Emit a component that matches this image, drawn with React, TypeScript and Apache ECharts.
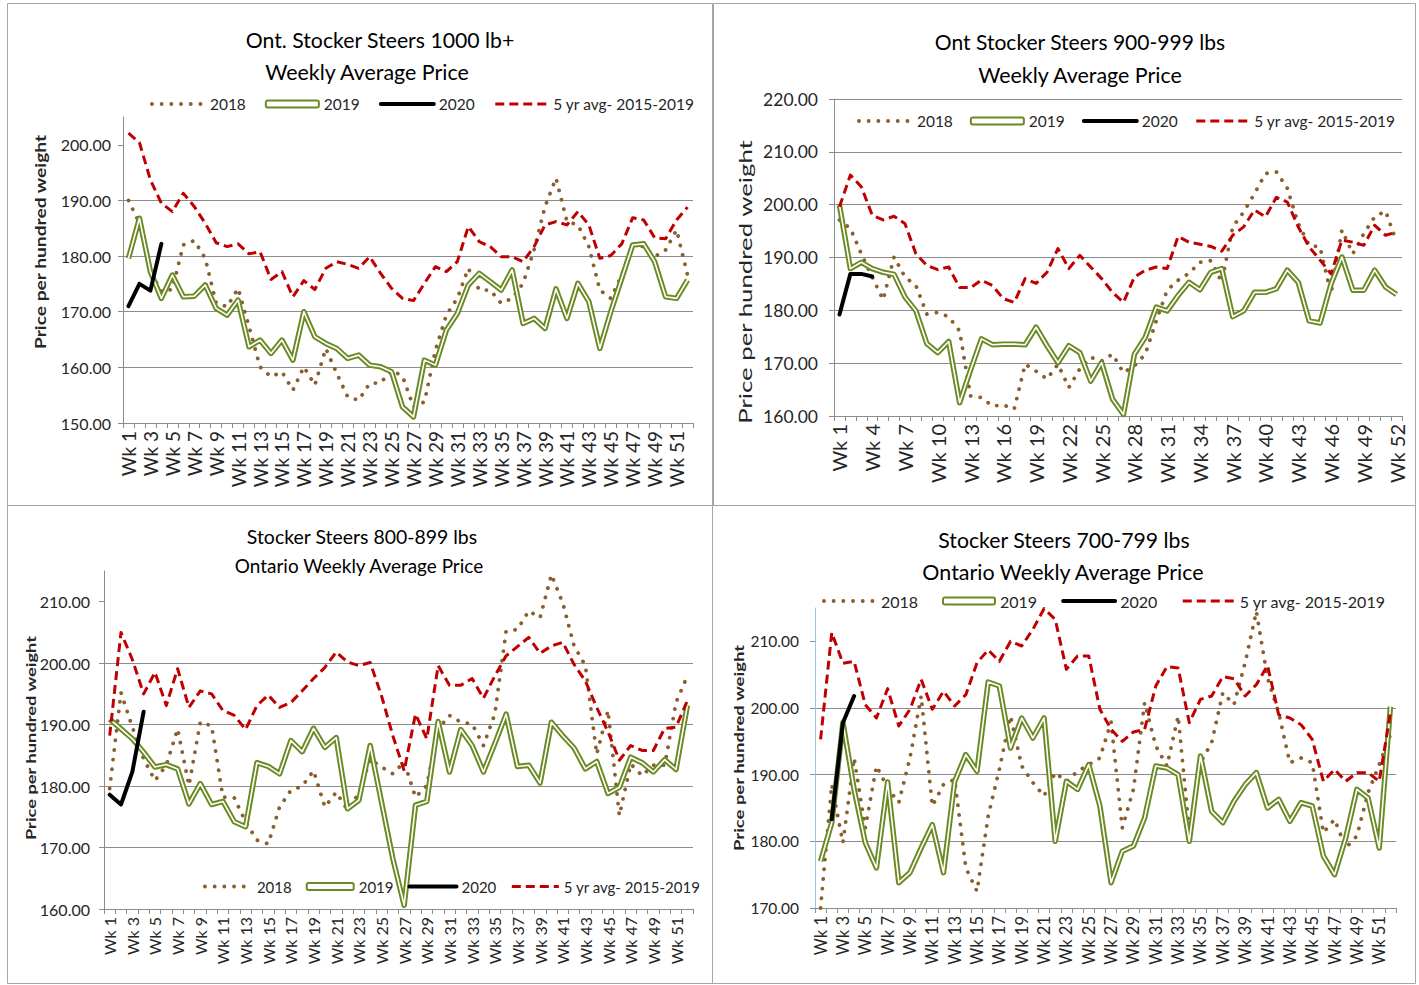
import React, { useEffect, useRef } from 'react';
import * as echarts from 'echarts';

// ---------- categories ----------
const weeks: string[] = Array.from({ length: 52 }, (_, i) => `Wk ${i + 1}`);
const seriesNames = ['2018', '2019', '2020', '5 yr avg- 2015-2019'];

// ---------- Panel 1: Ont. Stocker Steers 1000 lb+ ----------
const y2018_1000 = [190, 185.9, 177.2, 173.6, 174, 182, 182.8, 179.6, 171.5, 170.9, 174.2, 167.3, 160.1, 158.3, 159.2, 155.9, 160.1, 156.8, 163.4, 158.9, 154.7, 154.1, 157.1, 157.2, 159.5, 158.4, 152.9, 153.8, 163.1, 169.4, 172.4, 177.8, 173.9, 173.9, 171.5, 172.4, 175.1, 181.1, 188.9, 194.0, 186.2, 185.6, 181.7, 173.9, 172.4, 176.6, 182.0, 181.7, 179.9, 181.1, 184.7, 176.6];
const y2019_1000 = [179.6, 186.8, 177.2, 172.4, 176.6, 172.7, 172.8, 174.8, 170.6, 169.4, 172.1, 163.7, 164.9, 162.5, 164.9, 161.3, 170.0, 165.5, 164.3, 163.4, 161.6, 162.2, 160.4, 160.1, 159.2, 152.9, 151.1, 161.3, 160.4, 166.7, 169.7, 174.8, 176.9, 175.4, 173.9, 177.5, 167.9, 168.8, 167.0, 174.1, 168.8, 175.1, 171.8, 163.4, 170.0, 176.0, 182.0, 182.2, 179.0, 172.7, 172.4, 175.7];
const y2020_1000 = [171.0, 175.0, 173.8, 182.2];
const avg_1000 = [202.1, 200.4, 193.7, 189.5, 188.0, 191.3, 188.9, 185.9, 182.4, 181.7, 182.2, 180.4, 180.8, 175.8, 177.2, 172.7, 175.6, 174.0, 177.8, 179.0, 178.5, 177.8, 179.9, 176.9, 174.2, 172.4, 172.0, 175.1, 178.1, 177.2, 179.0, 185.3, 182.6, 181.7, 179.9, 179.9, 179.0, 181.7, 185.6, 186.2, 185.6, 188.0, 185.6, 179.6, 180.1, 182.2, 186.9, 186.5, 183.3, 183.1, 186.5, 188.8];

// ---------- Panel 2: Ont Stocker Steers 900-999 lbs ----------
const y2018_900 = [197.1, 195.5, 190.7, 186.3, 182.0, 190.1, 186.3, 184.7, 179.3, 179.6, 178.8, 176.1, 163.8, 163.5, 161.9, 162.1, 161.3, 169.8, 168.5, 167.0, 169.8, 165.4, 168.9, 171.1, 170.4, 171.7, 168.2, 169.5, 171.7, 178.0, 183.8, 185.7, 187.0, 189.1, 189.4, 185.3, 195.8, 198.6, 202.1, 205.9, 206.2, 203.1, 196.4, 192.3, 192.0, 183.1, 195.2, 190.7, 194.5, 197.7, 198.8, 192.9];
const y2019_900 = [199.9, 187.9, 189.1, 187.9, 187.2, 186.8, 182.5, 179.9, 173.7, 172.0, 174.1, 162.5, 168.7, 174.6, 173.5, 173.6, 173.6, 173.5, 176.8, 173.3, 170.1, 173.3, 172.0, 166.6, 170.1, 163.2, 160.3, 171.7, 174.9, 180.6, 179.9, 182.8, 185.3, 183.9, 187.2, 187.9, 178.8, 179.9, 183.4, 183.4, 184.1, 187.6, 185.3, 178.0, 177.6, 185.0, 190.1, 183.8, 183.8, 187.6, 184.4, 183.0];
const y2020_900 = [179.2, 186.9, 186.9, 186.4];
const avg_900 = [199.6, 205.6, 203.4, 198.0, 197.1, 197.8, 196.4, 190.7, 188.5, 187.7, 188.2, 184.3, 184.3, 185.7, 184.7, 182.2, 181.5, 186.0, 185.1, 187.2, 191.7, 187.9, 190.4, 188.2, 186.0, 183.4, 181.5, 186.3, 187.6, 188.2, 187.9, 194.0, 192.9, 192.5, 192.1, 191.2, 194.2, 195.8, 199.0, 197.7, 201.4, 200.5, 195.8, 192.0, 189.5, 186.9, 193.3, 192.9, 192.3, 196.1, 194.2, 194.8];

// ---------- Panel 3: Stocker Steers 800-899 lbs ----------
const y2018_800 = [179.6, 195.2, 189.6, 184.4, 180.9, 183.4, 189.3, 180.1, 190.4, 189.8, 178.2, 178.1, 174.2, 171.2, 170.6, 176.6, 179.3, 180.0, 182.5, 176.6, 179.0, 176.1, 178.8, 184.4, 183.1, 182.0, 183.9, 178.2, 180.1, 189.3, 191.5, 190.4, 190.1, 186.6, 191.7, 205.2, 205.5, 208.5, 207.4, 214.4, 209.8, 202.8, 199.6, 185.2, 192.3, 175.2, 183.6, 181.7, 183.4, 183.4, 193.6, 197.9];
const y2019_800 = [190.9, 189.3, 187.7, 185.5, 183.1, 183.5, 182.8, 177.1, 180.4, 177.0, 177.5, 174.2, 173.4, 183.8, 183.2, 182.0, 187.4, 185.6, 189.4, 186.3, 187.9, 176.3, 177.7, 186.6, 177.4, 168.2, 160.6, 176.9, 177.5, 190.5, 182.3, 189.2, 186.6, 182.3, 186.9, 191.7, 183.2, 183.4, 180.5, 190.4, 188.2, 186.2, 182.8, 184.0, 178.8, 179.8, 184.7, 183.8, 182.3, 184.3, 182.7, 193.1];
const y2020_800 = [178.6, 177.0, 182.3, 192.1];
const avg_800 = [188.2, 205.0, 200.6, 195.0, 198.5, 193.1, 199.1, 192.8, 195.5, 195.0, 192.3, 191.5, 189.2, 193.1, 194.8, 192.8, 193.6, 195.5, 197.5, 199.3, 201.8, 200.2, 199.6, 200.1, 194.7, 188.2, 182.5, 191.7, 187.7, 199.6, 196.4, 196.4, 197.5, 194.3, 197.9, 201.2, 202.7, 204.2, 201.6, 202.8, 203.4, 199.8, 197.1, 192.8, 188.8, 184.2, 186.6, 185.8, 185.8, 189.4, 189.6, 193.9];

// ---------- Panel 4: Stocker Steers 700-799 lbs ----------
const y2018_700 = [170.0, 188.5, 179.8, 192.5, 182.0, 191.3, 188.0, 185.8, 192.5, 201.8, 185.3, 188.5, 189.3, 176.0, 172.5, 183.8, 190.8, 198.8, 191.3, 188.8, 186.8, 190.3, 189.0, 190.5, 191.5, 192.5, 197.9, 182.0, 187.8, 200.8, 194.3, 191.3, 198.8, 181.5, 191.8, 194.8, 202.3, 200.5, 206.8, 214.5, 204.5, 199.3, 191.8, 192.5, 191.8, 181.3, 183.3, 179.0, 180.8, 187.3, 191.5, 196.0];
const y2019_700 = [177.0, 182.8, 197.8, 187.8, 179.8, 176.0, 188.9, 173.8, 175.3, 179.0, 182.5, 175.3, 189.0, 193.0, 190.5, 203.9, 203.3, 194.0, 198.5, 195.5, 198.5, 180.0, 189.0, 187.8, 191.5, 185.3, 173.8, 178.5, 179.3, 183.5, 191.3, 191.0, 190.0, 180.0, 192.8, 184.5, 182.8, 186.0, 188.5, 190.3, 185.0, 186.3, 183.0, 185.8, 185.3, 177.8, 175.0, 180.5, 187.8, 186.5, 179.0, 200.2];
const y2020_700 = [null, 183.3, 197.8, 201.8];
const avg_700 = [195.3, 211.3, 206.7, 207.0, 200.5, 198.5, 202.9, 197.3, 199.8, 204.3, 199.8, 202.5, 200.3, 202.0, 206.8, 208.7, 207.0, 210.0, 209.3, 211.8, 214.9, 213.3, 205.8, 207.8, 207.8, 199.8, 196.8, 195.0, 196.4, 196.8, 203.3, 206.2, 206.0, 197.8, 201.3, 201.8, 204.7, 204.4, 201.8, 203.5, 206.4, 199.0, 198.5, 197.5, 195.3, 189.0, 190.8, 189.0, 190.3, 190.3, 189.0, 199.3];

// ---------- styling ----------
const FONT = 'Lato';
const TEXT = '#262626';
const AXIS = '#8c8c8c';
const GRID = '#8c8c8c';
const C18 = '#8b5e2e';
const C19 = '#6b8a24';
const C20 = '#000000';
const CAVG = '#c00000';

const panels = [
  {
    d2018: y2018_1000, d2019: y2019_1000, d2020: y2020_1000, avg: avg_1000,
    grid: { left: 123, top: 117, width: 570, height: 306 },
    yMin: 150, yMax: 205, xInterval: 1, xFont: 19, yFont: 16, yMargin: 12, yLine: AXIS,
    legend: { left: 150, top: 96, w: 53, gap: 19, font: 15.5 },
    titles: [
      { text: 'Ont. Stocker Steers 1000 lb+', x: 380, y: 40, w: 269, size: 22 },
      { text: 'Weekly Average Price', x: 367, y: 72, w: 205, size: 22 },
    ],
    yName: { x: 40, y: 242, len: 215, size: 15, weight: 'bold' },
  },
  {
    d2018: y2018_900, d2019: y2019_900, d2020: y2020_900, avg: avg_900,
    grid: { left: 834, top: 99, width: 568, height: 317 },
    yMin: 160, yMax: 220, xInterval: 2, xFont: 20, yFont: 17.5, yMargin: 16, yLine: AXIS,
    legend: { left: 857, top: 113, w: 53, gap: 17, font: 15.5 },
    titles: [
      { text: 'Ont Stocker Steers 900-999 lbs', x: 1080, y: 42, w: 291, size: 22 },
      { text: 'Weekly Average Price', x: 1080, y: 75, w: 205, size: 22 },
    ],
    yName: { x: 745, y: 282, len: 285, size: 18, weight: 'normal' },
  },
  {
    d2018: y2018_800, d2019: y2019_800, d2020: y2020_800, avg: avg_800,
    grid: { left: 104, top: 571, width: 589, height: 338 },
    yMin: 160, yMax: 215, xInterval: 1, xFont: 16, yFont: 16, yMargin: 14, yLine: AXIS,
    legend: { left: 203, top: 879, w: 47, gap: 14, font: 15 },
    titles: [
      { text: 'Stocker Steers 800-899 lbs', x: 362, y: 536, w: 231, size: 20 },
      { text: 'Ontario Weekly Average Price', x: 359, y: 565, w: 250, size: 20 },
    ],
    yName: { x: 30, y: 738, len: 205, size: 14, weight: 'bold' },
  },
  {
    d2018: y2018_700, d2019: y2019_700, d2020: y2020_700, avg: avg_700,
    grid: { left: 815, top: 608, width: 581, height: 300 },
    yMin: 170, yMax: 215, xInterval: 1, xFont: 16.5, yFont: 15.5, yMargin: 16, yLine: '#9dc3e6',
    legend: { left: 822, top: 593, w: 52, gap: 24, font: 16 },
    titles: [
      { text: 'Stocker Steers 700-799 lbs', x: 1064, y: 540, w: 252, size: 22 },
      { text: 'Ontario Weekly Average Price', x: 1063, y: 572, w: 283, size: 22 },
    ],
    yName: { x: 738, y: 748, len: 207, size: 14, weight: 'bold' },
  },
];

const borders = [
  [7.5, 3.5, 705, 502],
  [713.5, 3.5, 702, 502],
  [7.5, 505.5, 705, 478],
  [712.5, 505.5, 703, 478],
];

function measure(text: string, size: number, weight: string): number {
  const c = document.createElement('canvas').getContext('2d');
  if (!c) return text.length * size * 0.5;
  c.font = `${weight} ${size}px ${FONT}`;
  return c.measureText(text).width;
}

export default function App() {
  const ref = useRef<HTMLDivElement>(null);
  useEffect(() => {
    if (!ref.current) return;
    const chart = echarts.init(ref.current, undefined, { renderer: 'svg' });

    const series: any[] = [];
    panels.forEach((p, i) => {
      const base = {
        type: 'line', xAxisIndex: i, yAxisIndex: i, symbol: 'none', showSymbol: false,
        silent: true, emphasis: { disabled: true }, connectNulls: false,
      };
      series.push({ ...base, name: seriesNames[0], data: p.d2018, itemStyle: { color: C18 },
        lineStyle: { color: C18, width: 3.8, type: [0.1, 9.6], cap: 'round', join: 'round' } });
      series.push({ ...base, name: seriesNames[1], data: p.d2019, itemStyle: { color: C19 },
        lineStyle: { color: C19, width: 5.5, join: 'round' } });
      series.push({ ...base, name: seriesNames[1], data: p.d2019, itemStyle: { color: '#ffffff' },
        lineStyle: { color: '#ffffff', width: 1.6, join: 'round' } });
      series.push({ ...base, name: seriesNames[2], data: p.d2020, itemStyle: { color: C20 },
        lineStyle: { color: C20, width: 4, cap: 'round', join: 'round' } });
      series.push({ ...base, name: seriesNames[3], data: p.avg, itemStyle: { color: CAVG },
        lineStyle: { color: CAVG, width: 3, type: [9, 5], join: 'round' } });
    });

    const graphics: any[] = [];
    borders.forEach((b) => {
      graphics.push({ type: 'rect', silent: true, shape: { x: b[0], y: b[1], width: b[2], height: b[3] },
        style: { fill: 'none', stroke: '#a6a6a6', lineWidth: 1 } });
    });
    panels.forEach((p) => {
      p.titles.forEach((t) => {
        const m = measure(t.text, t.size, 'normal');
        graphics.push({ type: 'text', x: t.x, y: t.y, scaleX: t.w / m, silent: true,
          style: { text: t.text, fontSize: t.size, fontFamily: FONT, fill: '#000', align: 'center', verticalAlign: 'middle' } });
      });
      const n = p.yName;
      const text = 'Price per hundred weight';
      const m = measure(text, n.size, n.weight);
      graphics.push({ type: 'text', x: n.x, y: n.y, rotation: Math.PI / 2, scaleX: n.len / m, silent: true,
        style: { text, fontSize: n.size, fontWeight: n.weight, fontFamily: FONT, fill: TEXT, align: 'center', verticalAlign: 'middle' } });
    });

    const option: any = {
      animation: false,
      backgroundColor: '#ffffff',
      textStyle: { fontFamily: FONT },
      grid: panels.map((p) => ({ ...p.grid, containLabel: false })),
      xAxis: panels.map((p, i) => ({
        type: 'category', gridIndex: i, data: weeks, boundaryGap: true,
        axisLine: { show: true, lineStyle: { color: AXIS, width: 1 } },
        axisTick: { show: true, interval: 0, length: 5, lineStyle: { color: AXIS } },
        axisLabel: { interval: p.xInterval, rotate: 90, fontSize: p.xFont, fontFamily: FONT, color: TEXT, margin: 8 },
        splitLine: { show: false },
      })),
      yAxis: panels.map((p, i) => {
        const ticks: number[] = [];
        for (let v = p.yMin; v <= p.yMax; v += 10) ticks.push(v);
        return {
          type: 'value', gridIndex: i, min: p.yMin, max: p.yMax, interval: 10,
          axisLine: { show: true, lineStyle: { color: p.yLine, width: 1 } },
          axisTick: { show: true, length: 5, lineStyle: { color: AXIS }, customValues: ticks },
          axisLabel: {
            fontSize: p.yFont, fontFamily: FONT, color: TEXT, margin: p.yMargin,
            formatter: (v: number) => (Math.round(v) % 10 === 0 ? v.toFixed(2) : ''),
          },
          splitLine: { show: true, showMaxLine: p.yMax % 10 === 0, lineStyle: { color: GRID, width: 1 } },
        };
      }),
      legend: panels.map((p) => ({
        left: p.legend.left, top: p.legend.top, orient: 'horizontal',
        itemWidth: p.legend.w, itemHeight: 7, itemGap: p.legend.gap, padding: 0,
        selectedMode: false,
        textStyle: { fontSize: p.legend.font, fontFamily: FONT, color: TEXT },
        lineStyle: { width: 'inherit' },
        itemStyle: { color: 'rgba(0,0,0,0)', borderWidth: 0, opacity: 0 },
        data: [
          { name: seriesNames[0] },
          { name: seriesNames[1], icon: 'roundRect', itemStyle: { color: '#ffffff', borderColor: C19, borderWidth: 2, opacity: 1 } },
          { name: seriesNames[2] },
          { name: seriesNames[3] },
        ],
      })),
      graphic: { elements: graphics },
      series,
    };
    chart.setOption(option);
    return () => chart.dispose();
  }, []);

  return (
    <div
      ref={ref}
      style={{ position: 'absolute', left: 0, top: 0, width: 1419, height: 985, background: '#ffffff' }}
    />
  );
}
